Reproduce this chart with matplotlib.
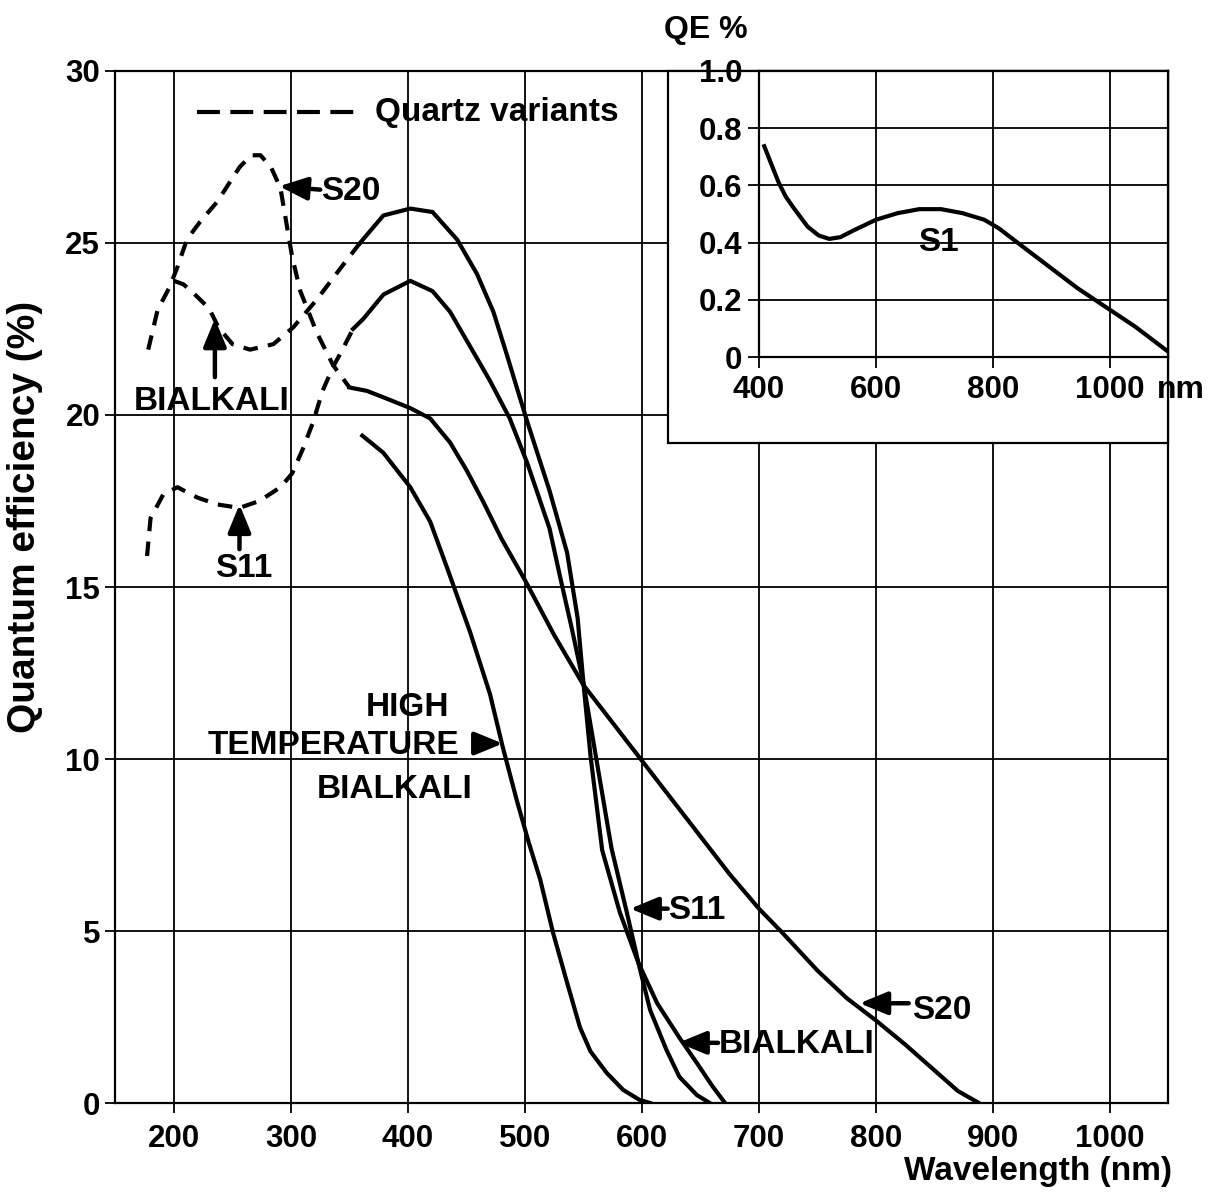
"""Photocathode quantum efficiency curves with S1 inset."""

import matplotlib
matplotlib.use("Agg")
import matplotlib.pyplot as plt
from matplotlib.patches import Rectangle

plt.rcParams["font.family"] = ["Liberation Sans", "DejaVu Sans"]
plt.rcParams["font.weight"] = "bold"

# quartz-window (dashed) parts
s20_quartz_nm = [178, 186, 196, 203, 211, 222, 237, 256, 266, 274, 283, 291, 297, 301, 308, 322, 336, 350]
s20_quartz_qe = [21.9, 23.05, 23.7, 24.3, 25.1, 25.6, 26.2, 27.2, 27.55, 27.55, 27.2, 26.6, 25.4, 24.6, 23.6, 22.4, 21.45, 20.8]

bialkali_quartz_nm = [200, 208, 215, 230, 238, 250, 265, 285, 302, 322, 342, 359]
bialkali_quartz_qe = [23.9, 23.8, 23.6, 23.1, 22.55, 22.06, 21.9, 22.06, 22.55, 23.35, 24.25, 25.0]

s11_quartz_nm = [177, 180, 191, 203, 220, 237, 256, 273, 291, 301, 310, 319, 327, 336, 344, 353]
s11_quartz_qe = [15.9, 17.0, 17.7, 17.9, 17.6, 17.4, 17.3, 17.5, 17.9, 18.3, 19.0, 19.8, 20.7, 21.4, 21.9, 22.5]

# glass-window (solid) curves
s20_nm = [350, 365, 380, 402, 419, 436, 450, 464, 480, 500, 525, 550, 575, 600, 625, 650, 675, 700, 720,
          750, 775, 800, 825, 850, 870, 888]
s20_qe = [20.8, 20.7, 20.5, 20.2, 19.9, 19.2, 18.4, 17.5, 16.4, 15.2, 13.6, 12.15, 11.05, 9.95, 8.85, 7.75, 6.65, 5.65, 4.95,
          3.85, 3.05, 2.4, 1.7, 0.95, 0.35, 0.0]

bialkali_nm = [359, 379, 402, 421, 442, 459, 473, 485, 493, 502, 521, 536, 545, 550, 556, 566, 581,
               597, 613, 632, 647, 660, 671]
bialkali_qe = [25.0, 25.8, 26.0, 25.9, 25.1, 24.1, 23.0, 21.7, 20.8, 19.8, 17.8, 16.0, 14.1, 12.2, 10.1, 7.35, 5.55,
               4.07, 2.9, 1.9, 1.16, 0.5, 0.0]

s11_nm = [353, 362, 379, 402, 421, 436, 453, 470, 487, 502, 521, 530, 540, 550, 560, 567, 574, 587, 597,
          607, 621, 632, 647, 658]
s11_qe = [22.5, 22.8, 23.5, 23.9, 23.6, 23.0, 22.0, 21.0, 19.9, 18.6, 16.7, 15.3, 13.8, 12.2, 10.2, 8.8, 7.4, 5.55, 4.07,
          2.7, 1.54, 0.76, 0.23, 0.0]

high_temp_nm = [361, 379, 402, 419, 433, 453, 470, 481, 493, 503, 513, 524, 536, 547, 556, 570, 584, 598, 607]
high_temp_qe = [19.4, 18.9, 17.9, 16.9, 15.6, 13.7, 11.9, 10.35, 8.8, 7.6, 6.5, 4.95, 3.5, 2.2, 1.5, 0.87, 0.38, 0.09, 0.0]

# inset: S1 photocathode
s1_nm = [409, 420, 434, 446, 459, 483, 502, 520, 539, 563, 600, 637, 674, 711, 748, 785, 810, 847, 896, 945,
         1000, 1044, 1100]
s1_qe = [0.737, 0.68, 0.608, 0.56, 0.522, 0.456, 0.425, 0.413, 0.419, 0.444, 0.48, 0.503, 0.517, 0.517, 0.503, 0.48,
         0.45, 0.392, 0.316, 0.24, 0.165, 0.105, 0.018]

main_xticks = [200, 300, 400, 500, 600, 700, 800, 900, 1000]
main_yticks = [0, 5, 10, 15, 20, 25, 30]
inset_xticks = [400, 600, 800, 1000]
inset_yticks = [0, 0.2, 0.4, 0.6, 0.8, 1.0]
inset_yticklabels = ["0", "0.2", "0.4", "0.6", "0.8", "1.0"]

LW = 3.0
DASH = (0, (3.5, 2.5))
LABEL_FS = 24
TICK_FS = 22.5


def arrow(ax, tip, tail):
    ax.annotate("", xy=tip, xytext=tail,
                arrowprops=dict(arrowstyle="-|>,head_length=0.85,head_width=0.35",
                                color="black", lw=3.2, mutation_scale=20,
                                shrinkA=0, shrinkB=0))


fig = plt.figure(figsize=(12.14, 12.03), dpi=100)
ax = fig.add_axes([0.0951, 0.0831, 0.8674, 0.8579])

ax.plot(s20_quartz_nm, s20_quartz_qe, color="black", lw=LW, linestyle=DASH)
ax.plot(bialkali_quartz_nm, bialkali_quartz_qe, color="black", lw=LW, linestyle=DASH)
ax.plot(s11_quartz_nm, s11_quartz_qe, color="black", lw=LW, linestyle=DASH)
ax.plot(s20_nm, s20_qe, color="black", lw=LW)
ax.plot(bialkali_nm, bialkali_qe, color="black", lw=LW)
ax.plot(s11_nm, s11_qe, color="black", lw=LW)
ax.plot(high_temp_nm, high_temp_qe, color="black", lw=LW)

ax.set_xlim(150, 1050)
ax.set_ylim(0, 30)
ax.set_xticks(main_xticks)
ax.set_yticks(main_yticks)
ax.set_axisbelow(True)
ax.grid(True, color="black", lw=1.3)
for sp in ax.spines.values():
    sp.set_linewidth(1.6)
ax.tick_params(direction="out", length=7, width=1.3, labelsize=TICK_FS)
ax.tick_params(axis="x", pad=8)
ax.tick_params(axis="y", pad=4)

# legend for the quartz variants
ax.plot([220, 359], [28.8, 28.8], color="black", lw=LW, linestyle=(0, (5.5, 2.5)))
ax.text(372, 28.8, "Quartz variants", fontsize=LABEL_FS, va="center", ha="left")

# curve labels
ax.text(326, 26.5, "S20", fontsize=LABEL_FS, va="center", ha="left")
arrow(ax, (290, 26.65), (325, 26.55))

ax.text(232, 20.4, "BIALKALI", fontsize=LABEL_FS, va="center", ha="center")
arrow(ax, (235, 22.8), (235, 21.1))

ax.text(260, 15.55, "S11", fontsize=LABEL_FS, va="center", ha="center")
arrow(ax, (256, 17.4), (256, 16.1))

ax.text(400, 11.5, "HIGH", fontsize=LABEL_FS, va="center", ha="center")
ax.text(336, 10.4, "TEMPERATURE", fontsize=LABEL_FS, va="center", ha="center")
ax.text(389, 9.1, "BIALKALI", fontsize=LABEL_FS, va="center", ha="center")
arrow(ax, (481, 10.45), (468, 10.45))

ax.text(622, 5.6, "S11", fontsize=LABEL_FS, va="center", ha="left")
arrow(ax, (590, 5.65), (622, 5.65))

ax.text(666, 1.7, "BIALKALI", fontsize=LABEL_FS, va="center", ha="left")
arrow(ax, (631, 1.75), (665, 1.75))

ax.text(831, 2.7, "S20", fontsize=LABEL_FS, va="center", ha="left")
arrow(ax, (786, 2.9), (828, 2.9))

# white box behind the inset
ax.add_patch(Rectangle((622, 19.2), 1050 - 622, 30 - 19.2, facecolor="white",
                       edgecolor="black", lw=1.6, zorder=3, clip_on=False))

fig.text(0.0206, 0.570, "Quantum efficiency (%)", rotation=90, fontsize=28,
         ha="center", va="center")
fig.text(0.965, 0.0258, "Wavelength (nm)", fontsize=LABEL_FS, ha="right", va="center")

# inset
ins = fig.add_axes([0.6252, 0.7032, 0.3373, 0.2378])
ins.plot(s1_nm, s1_qe, color="black", lw=LW)
ins.set_xlim(400, 1100)
ins.set_ylim(0, 1.0)
ins.set_xticks(inset_xticks)
ins.set_yticks(inset_yticks)
ins.set_yticklabels(inset_yticklabels)
ins.grid(True, color="black", lw=1.3)
ins.set_axisbelow(True)
for sp in ins.spines.values():
    sp.set_linewidth(1.6)
ins.tick_params(direction="out", length=8, width=1.3, labelsize=TICK_FS)
ins.tick_params(axis="x", pad=5)
ins.tick_params(axis="y", pad=4)
ins.text(706, 0.40, "S1", fontsize=LABEL_FS, ha="center", va="center")

fig.text(0.5815, 0.975, "QE %", fontsize=23, ha="center", va="center")
fig.text(0.953, 0.676, "nm", fontsize=23, ha="left", va="center")

fig.savefig("out.png", dpi=100)
